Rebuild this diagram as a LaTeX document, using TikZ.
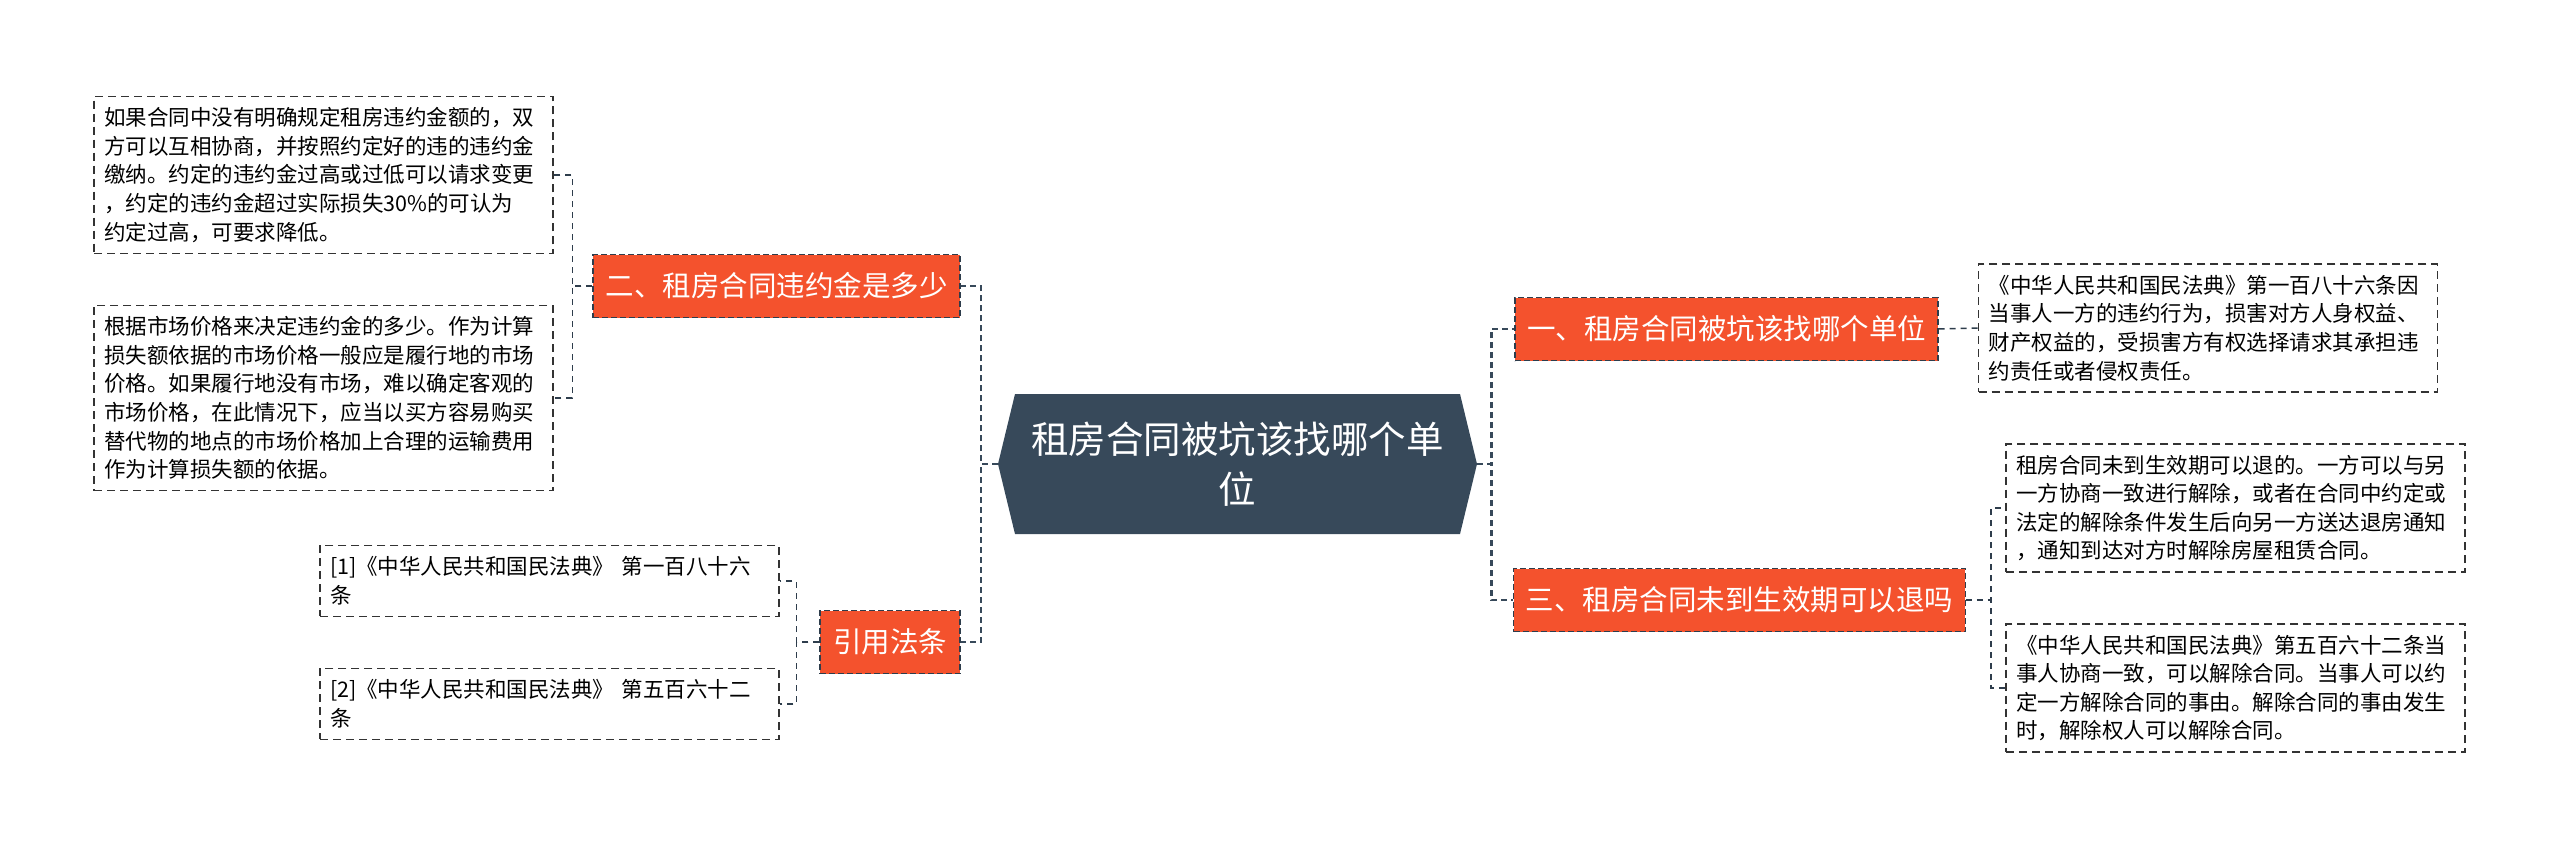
\documentclass[tikz,border=0pt]{standalone}
\usepackage{fontspec}
\setmainfont{Noto Sans CJK SC}
\usepackage{tikz}
\usetikzlibrary{positioning}
\usepackage{xcolor}

\definecolor{slate}{HTML}{37495A}
\definecolor{tomato}{HTML}{F4522D}
\definecolor{edge}{HTML}{2E3D4C}

\tikzset{
  leaf/.style={draw=black!80, line width=1.4pt, dash pattern=on 8pt off 5pt, fill=white,
    text width=439pt, align=left, inner xsep=10pt, inner ysep=11pt,
    font=\fontsize{21.5}{28.6}\selectfont},
  branch/.style={fill=tomato, draw=edge, line width=1.4pt, dash pattern=on 6pt off 3pt,
    text=white, minimum height=63pt, inner xsep=12pt, font=\fontsize{28.5}{34}\selectfont},
  rootbox/.style={minimum width=479pt, minimum height=140pt, inner sep=0pt, text=white,
    align=center, font=\fontsize{37.5}{50}\selectfont,
    path picture={\fill[slate] ([xshift=17pt]path picture bounding box.north west)
      -- ([xshift=-17pt]path picture bounding box.north east)
      -- (path picture bounding box.east)
      -- ([xshift=-17pt]path picture bounding box.south east)
      -- ([xshift=17pt]path picture bounding box.south west)
      -- (path picture bounding box.west) -- cycle;}},
  trunk/.style={draw=slate, line width=2.6pt, dash pattern=on 6pt off 4pt},
  twig/.style={draw=edge, line width=1.5pt, dash pattern=on 6pt off 5pt}
}

\begin{document}
\begin{tikzpicture}[x=1pt, y=-1pt]
  \useasboundingbox (0,0) rectangle (2560,852);

  \node[rootbox] (root) at (1237.5,464) {租房合同被坑该找哪个单\\位};

  % left side
  \node[branch, minimum width=367pt] (b2) at (776.5,286) {二、租房合同违约金是多少};
  \node[branch, minimum width=140pt] (cite) at (890,642) {引用法条};

  \node[leaf] (l1) at (323.5,175) {如果合同中没有明确规定租房违约金额的，双\\方可以互相协商，并按照约定好的违的违约金\\缴纳。约定的违约金过高或过低可以请求变更\\，约定的违约金超过实际损失30\%的可认为\\约定过高，可要求降低。};
  \node[leaf] (l2) at (323.5,398) {根据市场价格来决定违约金的多少。作为计算\\损失额依据的市场价格一般应是履行地的市场\\价格。如果履行地没有市场，难以确定客观的\\市场价格，在此情况下，应当以买方容易购买\\替代物的地点的市场价格加上合理的运输费用\\作为计算损失额的依据。};
  \node[leaf] (c1) at (549.5,581) {[1]《中华人民共和国民法典》 第一百八十六\\条};
  \node[leaf] (c2) at (549.5,704) {[2]《中华人民共和国民法典》 第五百六十二\\条};

  % right side
  \node[branch, minimum width=423pt] (b1) at (1726.5,329) {一、租房合同被坑该找哪个单位};
  \node[branch, minimum width=449pt] (b3) at (1739.5,600) {三、租房合同未到生效期可以退吗};

  \node[leaf] (r1) at (2208,328) {《中华人民共和国民法典》第一百八十六条因\\当事人一方的违约行为，损害对方人身权益、\\财产权益的，受损害方有权选择请求其承担违\\约责任或者侵权责任。};
  \node[leaf] (r2) at (2235.5,508) {租房合同未到生效期可以退的。一方可以与另\\一方协商一致进行解除，或者在合同中约定或\\法定的解除条件发生后向另一方送达退房通知\\，通知到达对方时解除房屋租赁合同。};
  \node[leaf] (r3) at (2235.5,688) {《中华人民共和国民法典》第五百六十二条当\\事人协商一致，可以解除合同。当事人可以约\\定一方解除合同的事由。解除合同的事由发生\\时，解除权人可以解除合同。};

  \draw[trunk] (root.west) -- ++(-17,0) |- (b2.east);
  \draw[trunk] (root.west) -- ++(-17,0) |- (cite.east);
  \draw[trunk] (root.east) -- ++(14,0) |- (b1.west);
  \draw[trunk] (root.east) -- ++(14,0) |- (b3.west);

  \draw[twig] (b2.west) -- ++(-20,0) |- (l1.east);
  \draw[twig] (b2.west) -- ++(-20,0) |- (l2.east);
  \draw[twig] (cite.west) -- ++(-23,0) |- (c1.east);
  \draw[twig] (cite.west) -- ++(-23,0) |- (c2.east);
  \draw[twig] (b1.east) -- (r1.west);
  \draw[twig] (b3.east) -- ++(25,0) |- (r2.west);
  \draw[twig] (b3.east) -- ++(25,0) |- (r3.west);
\end{tikzpicture}
\end{document}
